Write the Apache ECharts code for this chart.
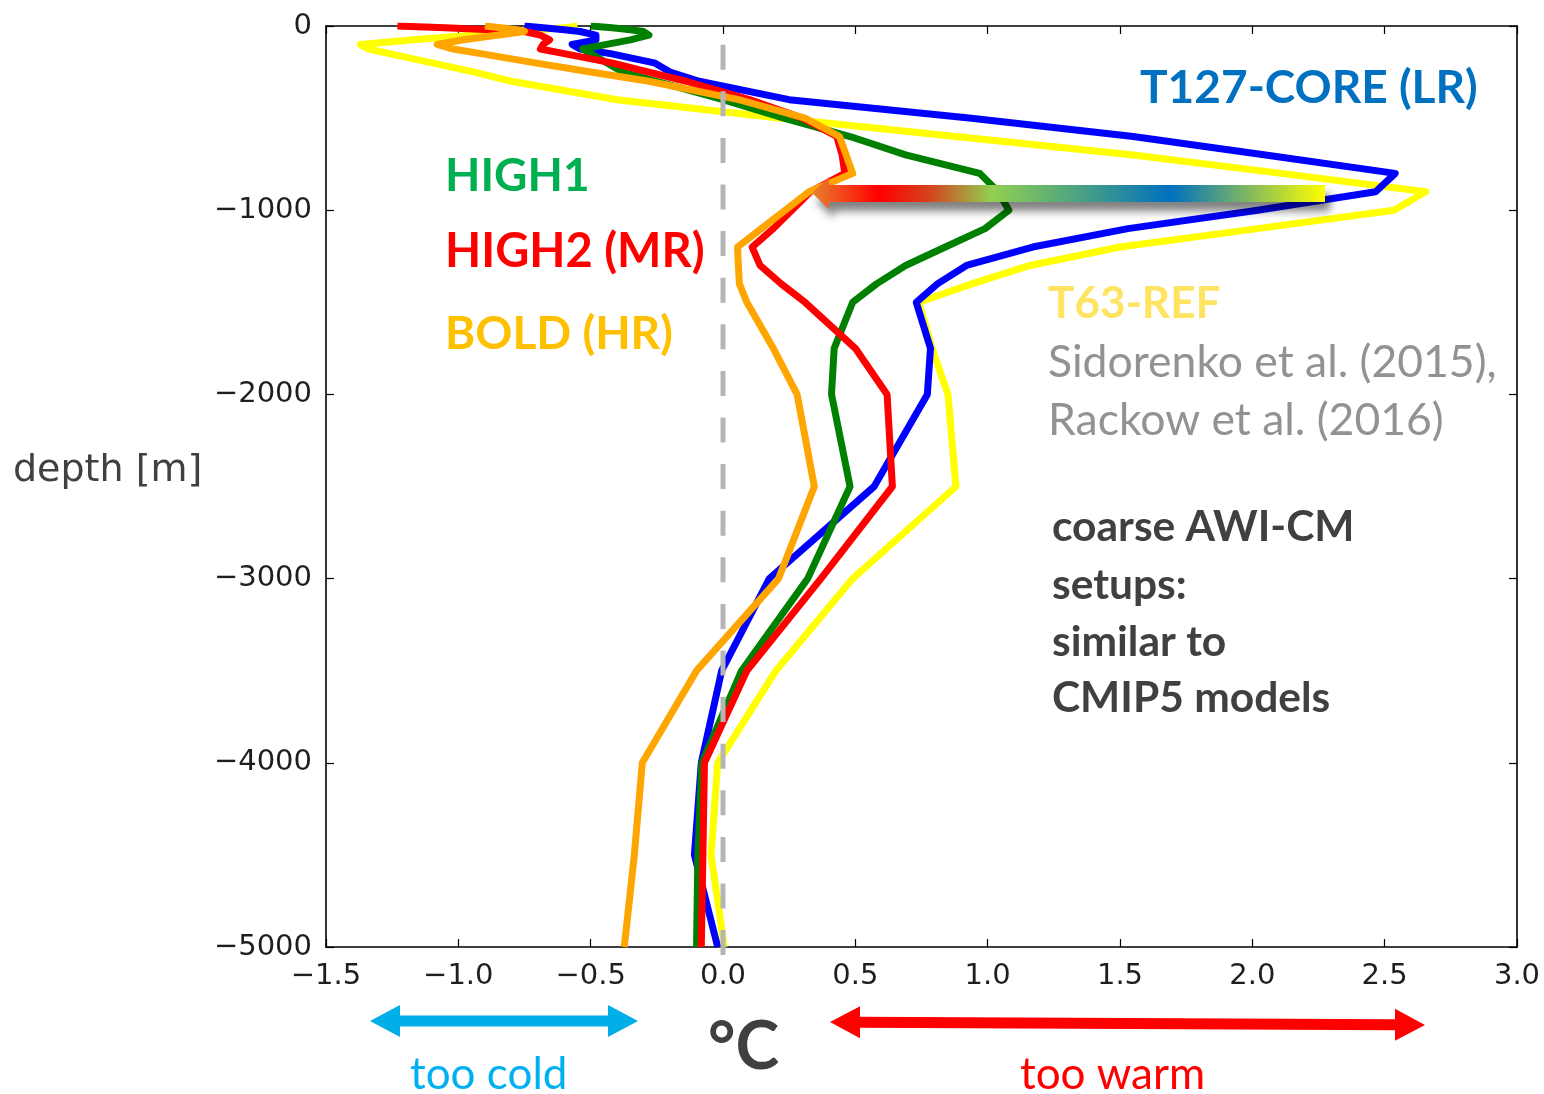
<!DOCTYPE html>
<html>
<head>
<meta charset="utf-8">
<script src="https://cdn.jsdelivr.net/npm/echarts@6/dist/echarts.min.js"></script>
<style>
html,body{margin:0;padding:0;background:#fff;}
#chart{width:1544px;height:1094px;}
</style>
</head>
<body>
<div id="chart"></div>
<script>
// depth levels [m] (positive down)
const depthLevels = [0,10,20,30,50,75,100,125,150,200,250,300,400,500,600,700,800,900,1000,1100,1200,1300,1400,1500,1750,2000,2500,3000,3500,4000,4500,5000];
// temperature bias [°C]
const t63Ref   = [-0.55,-0.6,-0.7,-0.8,-0.95,-1.17,-1.37,-1.34,-1.26,-1.10,-0.94,-0.80,-0.40,0.21,0.88,1.55,2.11,2.655,2.535,2.02,1.50,1.16,0.94,0.74,0.79,0.85,0.88,0.49,0.20,-0.02,-0.045,0.005];
const t127Core = [-0.75,-0.68,-0.6,-0.54,-0.48,-0.48,-0.57,-0.54,-0.425,-0.26,-0.20,-0.09,0.25,0.93,1.55,2.05,2.54,2.466,2.02,1.53,1.17,0.92,0.81,0.73,0.784,0.772,0.571,0.175,-0.005,-0.082,-0.108,-0.02];
const high1    = [-0.50,-0.42,-0.35,-0.30,-0.28,-0.35,-0.44,-0.53,-0.50,-0.44,-0.38,-0.25,0.0,0.23,0.48,0.69,0.97,1.04,1.08,0.99,0.84,0.69,0.58,0.49,0.42,0.41,0.48,0.32,0.07,-0.08,-0.095,-0.10];
const high2    = [-1.23,-1.05,-0.88,-0.75,-0.69,-0.655,-0.68,-0.69,-0.60,-0.42,-0.28,-0.14,0.10,0.30,0.43,0.45,0.46,0.33,0.26,0.19,0.11,0.14,0.22,0.31,0.50,0.62,0.64,0.37,0.09,-0.07,-0.076,-0.082];
const boldHR   = [-0.90,-0.84,-0.78,-0.75,-0.855,-0.98,-1.08,-1.02,-0.915,-0.71,-0.50,-0.28,0.06,0.31,0.44,0.465,0.49,0.325,0.235,0.145,0.055,0.058,0.062,0.09,0.19,0.28,0.345,0.21,-0.10,-0.305,-0.335,-0.373];
// zero reference line
const zeroLineX = [0, 0];
const zeroLineY = [0, -5045];
// axis ticks
const xTicks = {min:-1.5, max:3.0, interval:0.5};
const yTicks = {min:-5000, max:0, interval:1000};

function toPairs(vals){ return vals.map((v,i)=>[v, -depthLevels[i]]); }
const minus = s => String(s).replace('-', '\u2212');

const chart = echarts.init(document.getElementById('chart'), null, {renderer:'canvas'});
const lineW = 7;
function curve(name, vals, color){
  return {name, type:'line', data:toPairs(vals), symbol:'none', smooth:false,
    lineStyle:{color, width:lineW, join:'round', cap:'butt'}, z:2, silent:true};
}
const tickLabelFont = {fontFamily:'DejaVu Sans', fontSize:29, color:'#1e1e1e'};
const axisLineStyle = {onZero:false, lineStyle:{color:'#000', width:1.6}};
const tickStyle = {show:true, inside:true, length:8, lineStyle:{color:'#000', width:1.2}};

function doubleArrow(x1, y1, x2, y2, hl, hh, sh){
  const dy = (y2-y1)/(x2-x1);
  const yy = x => y1 + (x-x1)*dy;
  return [[x1,y1],[x1+hl,yy(x1+hl)-hh],[x1+hl,yy(x1+hl)-sh],[x2-hl,yy(x2-hl)-sh],[x2-hl,yy(x2-hl)-hh],[x2,y2],
          [x2-hl,yy(x2-hl)+hh],[x2-hl,yy(x2-hl)+sh],[x1+hl,yy(x1+hl)+sh],[x1+hl,yy(x1+hl)+hh]];
}
function txt(text, x, y, size, color, weight, family){
  return {type:'text', x, y, z:50, style:{text, fill:color, font:(weight||'normal')+' '+size+'px '+(family||'Lato'), textVerticalAlign:'middle', textAlign:'left'}};
}

const option = {
  animation:false,
  backgroundColor:'#fff',
  grid:{left:326, top:26, width:1191, height:921, containLabel:false},
  xAxis:[
    {type:'value', position:'bottom', min:xTicks.min, max:xTicks.max, interval:xTicks.interval,
     axisLine:axisLineStyle, axisTick:tickStyle, splitLine:{show:false},
     axisLabel:Object.assign({margin:15, formatter:v=>minus(v.toFixed(1))}, tickLabelFont)},
    {type:'value', position:'top', min:xTicks.min, max:xTicks.max, interval:xTicks.interval,
     axisLine:axisLineStyle, axisTick:tickStyle, splitLine:{show:false}, axisLabel:{show:false}}
  ],
  yAxis:[
    {type:'value', position:'left', min:yTicks.min, max:yTicks.max, interval:yTicks.interval,
     axisLine:axisLineStyle, axisTick:tickStyle, splitLine:{show:false},
     axisLabel:Object.assign({margin:14, formatter:v=>minus(v)}, tickLabelFont)},
    {type:'value', position:'right', min:yTicks.min, max:yTicks.max, interval:yTicks.interval,
     axisLine:axisLineStyle, axisTick:tickStyle, splitLine:{show:false}, axisLabel:{show:false}}
  ],
  series:[
    curve('T63-REF', t63Ref, '#ffff00'),
    curve('T127-CORE (LR)', t127Core, '#0000ff'),
    curve('HIGH1', high1, '#008000'),
    curve('HIGH2 (MR)', high2, '#ff0000'),
    curve('BOLD (HR)', boldHR, '#ffa500'),
    {name:'zero', type:'line', data:zeroLineX.map((x,i)=>[x, zeroLineY[i]]), symbol:'none', clip:false, z:5, silent:true,
     lineStyle:{color:'#b5b5b5', width:5, type:[25,21.6], dashOffset:27.9}}
  ],
  graphic:[
    {type:'polygon', z:40, shape:{points:[[812,193],[829,177],[829,185],[1325,185],[1325,202],[829,202],[829,209]]},
     style:{fill:new echarts.graphic.LinearGradient(0,0,1,0,[
       {offset:0,color:'#e8822e'},{offset:0.13,color:'#ff0000'},{offset:0.23,color:'#d4441e'},
       {offset:0.35,color:'#92d050'},{offset:0.55,color:'#3e9a8c'},{offset:0.70,color:'#0070c0'},{offset:1,color:'#ffff00'}]),
       shadowColor:'rgba(0,0,0,0.5)', shadowBlur:9, shadowOffsetX:5, shadowOffsetY:9}},
    {type:'polygon', z:40, shape:{points:doubleArrow(370,1021,638,1021,30,16,5.5)}, style:{fill:'#00aee8'}},
    {type:'polygon', z:40, shape:{points:doubleArrow(830,1022,1425,1025,30,16,5.5)}, style:{fill:'#ff0000'}},
    txt('depth [m]', 13, 471, 38, '#404040', 'normal', 'DejaVu Sans'),
    txt('T127-CORE (LR)', 1140, 88, 46, '#0070c0', 'bold'),
    txt('HIGH1', 445, 176, 46, '#00b050', 'bold'),
    txt('HIGH2 (MR)', 445, 252, 47, '#ff0000', 'bold'),
    txt('BOLD (HR)', 445, 334, 46, '#ffc000', 'bold'),
    txt('T63-REF', 1048, 304, 44, '#ffe462', 'bold'),
    txt('Sidorenko et al. (2015),', 1048, 363, 44.5, '#929292', 'normal'),
    txt('Rackow et al. (2016)', 1048, 421, 44.5, '#929292', 'normal'),
    txt('coarse AWI-CM', 1052, 527, 42.5, '#404040', 'bold'),
    txt('setups:', 1052, 585, 42.5, '#404040', 'bold'),
    txt('similar to', 1052, 642, 42.5, '#404040', 'bold'),
    txt('CMIP5 models', 1052, 698, 42.5, '#404040', 'bold'),
    txt('too cold', 410, 1075, 44, '#00b0f0', 'normal'),
    txt('too warm', 1020, 1075, 44, '#ff0000', 'normal'),
    txt('°C', 708, 1048, 66, '#404040', 'bold')
  ]
};
chart.setOption(option);
</script>
</body>
</html>
